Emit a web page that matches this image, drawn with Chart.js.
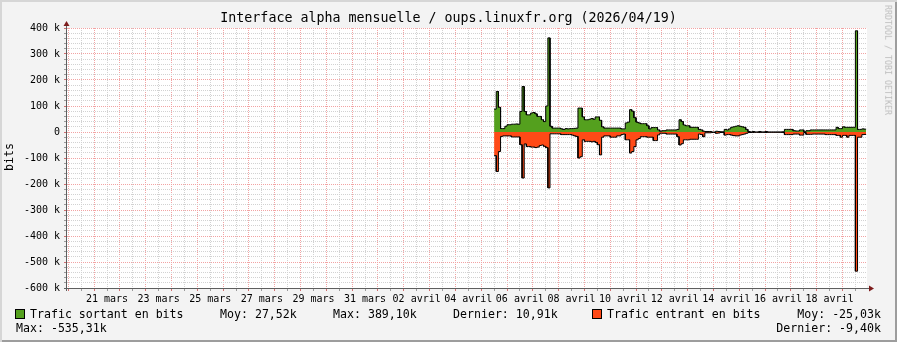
<!DOCTYPE html>
<html lang="fr">
<head>
<meta charset="UTF-8">
<title>Interface alpha mensuelle / oups.linuxfr.org</title>
<script src="https://cdn.jsdelivr.net/npm/chart.js"></script>
<style>
  body { margin: 0; background: #f3f3f3; }
  #cadre {
    position: relative; width: 897px; height: 342px; overflow: hidden;
    background: #f3f3f3;
    box-shadow: inset 2px 2px 0 #d6d6d6, inset -2px -2px 0 #9d9d9d;
    font-family: "DejaVu Sans Mono", monospace; color: #000;
  }
  #graphe { position: absolute; left: 0; top: 0; }
  .t { position: absolute; white-space: pre; font-size: 11.6px; line-height: 14px; }
  .carre { position: absolute; width: 10px; height: 10px; box-sizing: border-box; border: 1px solid #000; }
  #titre { position: absolute; left: 0; top: 10px; width: 897px; text-align: center; font-size: 13.3px; line-height: 16px; white-space: pre; }
  #bits { position: absolute; left: 10px; top: 157px; font-size: 11.6px; line-height: 1; transform: translate(-50%, -50%) rotate(-90deg); }
  #signature { position: absolute; left: 888px; top: 60px; font-size: 8.3px; line-height: 1; color: #bdbdbd; white-space: pre; transform: translate(-50%, -50%) rotate(90deg); }
</style>
</head>
<body>
<div id="cadre">
  <canvas id="graphe" width="897" height="342"></canvas>
  <div id="titre">Interface alpha mensuelle / oups.linuxfr.org (2026/04/19)</div>
  <div id="bits">bits</div>
  <div id="signature">RRDTOOL / TOBI OETIKER</div>

  <div class="carre" style="left:15px; top:309px; background:#54a01e"></div>
  <div class="t" style="left:30px; top:306.7px">Trafic sortant en bits</div>
  <div class="t" style="left:220px; top:306.7px">Moy: 27,52k</div>
  <div class="t" style="left:333px; top:306.7px">Max: 389,10k</div>
  <div class="t" style="left:453px; top:306.7px">Dernier: 10,91k</div>
  <div class="carre" style="left:592px; top:309px; background:#ff4a17"></div>
  <div class="t" style="left:607px; top:306.7px">Trafic entrant en bits</div>
  <div class="t" style="right:16px; top:306.7px">Moy: -25,03k</div>
  <div class="t" style="left:16px; top:321.3px">Max: -535,31k</div>
  <div class="t" style="right:16px; top:321.3px">Dernier: -9,40k</div>
</div>
<script>
// jours comptés depuis le 20 mars 00:00
const etiquettesJours = ['21 mars', '23 mars', '25 mars', '27 mars', '29 mars', '31 mars', '02 avril',
  '04 avril', '06 avril', '08 avril', '10 avril', '12 avril', '14 avril', '16 avril', '18 avril'];
const debutJours = 16.5;   // premier pas : 05 avril 12:00
const pasJours = 1 / 12;   // un pas = 2 h

// trafic en kbits, un point par pas
const sortantK = [
  88, 156, 95, 13, 13, 22, 28, 28, 30, 30,
  31, 30, 79, 175, 79, 66, 66, 73, 75, 70,
  60, 60, 47, 40, 100, 362, 22, 15, 15, 15,
  15, 12, 10, 13, 12, 13, 13, 14, 15, 92,
  92, 58, 47, 47, 49, 52, 49, 58, 58, 45,
  20, 15, 15, 15, 15, 15, 15, 15, 15, 12,
  12, 35, 38, 86, 80, 55, 38, 35, 32, 32,
  32, 24, 12, 17, 17, 17, 8, 3, 5, 5,
  8, 8, 8, 8, 8, 10, 47, 40, 27, 24,
  24, 18, 18, 18, 18, 10, 8, 3, 2, 2,
  2, 0, 0, 3, 2, 1, 1, 10, 8, 12,
  18, 20, 22, 24, 22, 20, 18, 10, 2, 0,
  2, 0, 0, 2, 0, 0, 2, 0, 0, 0,
  0, 0, 0, 0, 1, 10, 10, 10, 10, 5,
  4, 4, 8, 8, 1, 5, 5, 8, 8, 8,
  8, 8, 8, 8, 8, 8, 8, 8, 8, 18,
  13, 13, 20, 18, 18, 18, 18, 18, 389.1, 10,
  10, 12, 10.91
];
const entrantK = [
  -91, -152, -75, -17, -15, -15, -15, -15, -19, -19,
  -19, -19, -49, -177, -46, -56, -56, -58, -58, -60,
  -58, -52, -50, -55, -60, -215, -7, -7, -7, -7,
  -7, -10, -10, -10, -10, -10, -12, -15, -17, -100,
  -95, -30, -36, -36, -36, -38, -36, -40, -49, -88,
  -20, -15, -15, -15, -20, -20, -20, -15, -15, -10,
  -8, -30, -30, -81, -75, -56, -30, -25, -18, -18,
  -18, -20, -20, -20, -33, -33, -11, -5, -5, -5,
  -8, -8, -8, -8, -8, -18, -50, -45, -30, -30,
  -30, -28, -28, -28, -28, -8, -10, -18, -3, -3,
  -3, -2, -2, -5, -4, -2, -2, -12, -10, -10,
  -12, -14, -15, -15, -12, -10, -8, -5, -2, -2,
  -2, -1, -1, -2, -1, -1, -2, -1, -1, -1,
  -1, -1, -1, -1, -2, -10, -10, -10, -10, -8,
  -8, -8, -12, -12, -2, -9, -9, -9, -8, -8,
  -8, -8, -8, -8, -10, -10, -10, -10, -10, -13,
  -13, -20, -13, -13, -20, -13, -13, -13, -535.31, -20,
  -20, -10, -9.40
];

const VERT = '#54a01e';
const ROUGE = '#ff4a17';
const GRILLE_MAJ = '#f2a3a3';
const GRILLE_MIN = '#d2d2d2';

// chaque valeur tient tout son pas (rendu en marches comme rrdtool)
function enMarches(valeurs) {
  const pts = [];
  valeurs.forEach((v, i) => {
    const t0 = debutJours + i * pasJours;
    pts.push({ x: t0, y: v }, { x: t0 + pasJours, y: v });
  });
  return pts;
}

const fondEtAxes = {
  id: 'fondEtAxes',
  beforeDraw(chart) {
    const { ctx, chartArea: a } = chart;
    ctx.save();
    ctx.fillStyle = '#fff';
    ctx.fillRect(a.left, a.top, a.right - a.left, a.bottom - a.top);
    ctx.restore();
  },
  afterDraw(chart) {
    const { ctx, chartArea: a } = chart;
    const x0 = a.left - 0.5, y0 = a.bottom + 0.5;
    ctx.save();
    ctx.strokeStyle = '#5e5e5e';
    ctx.lineWidth = 1;
    ctx.beginPath();
    ctx.moveTo(x0, a.bottom + 3);
    ctx.lineTo(x0, a.top - 4);
    ctx.moveTo(a.left - 3, y0);
    ctx.lineTo(a.right + 4, y0);
    ctx.stroke();
    ctx.fillStyle = '#7d1c1c';
    ctx.beginPath();
    ctx.moveTo(x0, a.top - 7);
    ctx.lineTo(x0 - 3, a.top - 2);
    ctx.lineTo(x0 + 3, a.top - 2);
    ctx.fill();
    ctx.beginPath();
    ctx.moveTo(a.right + 7, y0);
    ctx.lineTo(a.right + 2, y0 - 3);
    ctx.lineTo(a.right + 2, y0 + 3);
    ctx.fill();
    ctx.restore();
  }
};

new Chart(document.getElementById('graphe'), {
  type: 'line',
  data: {
    datasets: [
      { label: 'Trafic sortant en bits', data: enMarches(sortantK), fill: 'origin',
        backgroundColor: VERT, borderColor: '#000', borderWidth: 1, pointRadius: 0, tension: 0 },
      { label: 'Trafic entrant en bits', data: enMarches(entrantK), fill: 'origin',
        backgroundColor: ROUGE, borderColor: '#000', borderWidth: 1, pointRadius: 0, tension: 0 }
    ]
  },
  options: {
    responsive: false,
    animation: false,
    devicePixelRatio: 1,
    layout: { padding: { top: 28, right: 30, left: 0, bottom: 0 } },
    plugins: { legend: { display: false }, title: { display: false }, tooltip: { enabled: false } },
    scales: {
      x: {
        type: 'linear',
        min: -0.05,
        max: 30.95,
        afterBuildTicks(scale) {
          scale.ticks = [];
          for (let k = 0; k <= 61; k++) scale.ticks.push({ value: k / 2 });
        },
        afterFit(scale) { scale.height = 54; },
        ticks: {
          autoSkip: false, maxRotation: 0, minRotation: 0, padding: 2,
          color: '#000', font: { family: 'DejaVu Sans Mono', size: 10 },
          callback(v) {
            const j = (v - 1.5) / 2;
            return Number.isInteger(j) && j >= 0 && j < etiquettesJours.length ? etiquettesJours[j] : '';
          }
        },
        grid: {
          tickLength: 3,
          color: c => Number.isInteger(c.tick.value) ? GRILLE_MAJ : GRILLE_MIN,
          tickColor: c => Number.isInteger(c.tick.value) ? '#d07070' : '#9a9a9a'
        },
        border: { display: false, dash: [1, 1] }
      },
      y: {
        min: -600,
        max: 400,
        afterBuildTicks(scale) {
          scale.ticks = [];
          for (let v = -600; v <= 400; v += 20) scale.ticks.push({ value: v });
        },
        afterFit(scale) { scale.width = 67; },
        ticks: {
          autoSkip: false, padding: 4,
          color: '#000', font: { family: 'DejaVu Sans Mono', size: 10 },
          callback(v) {
            if (v % 100 !== 0) return '';
            return v === 0 ? '0' : v + ' k';
          }
        },
        grid: {
          tickLength: 3,
          color: c => c.tick.value % 100 === 0 ? GRILLE_MAJ : GRILLE_MIN,
          tickColor: c => c.tick.value % 100 === 0 ? '#d07070' : '#9a9a9a'
        },
        border: { display: false, dash: [1, 1] }
      }
    }
  },
  plugins: [fondEtAxes]
});
</script>
</body>
</html>
